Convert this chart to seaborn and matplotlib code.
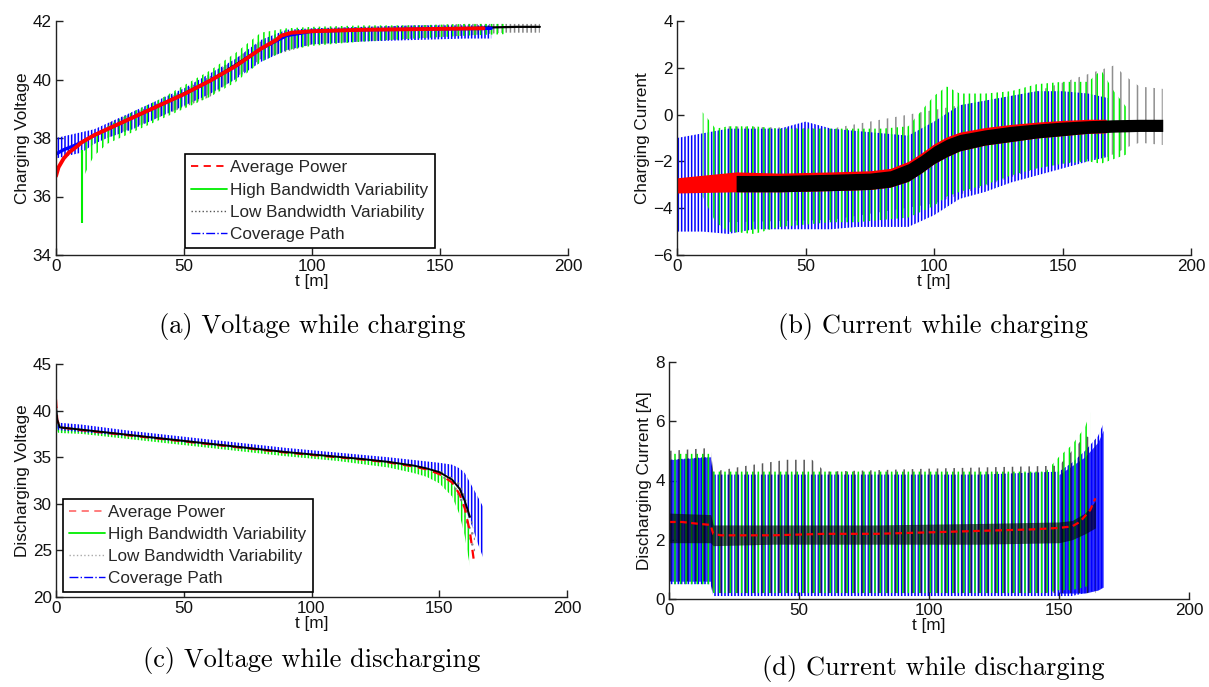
import numpy as np
import pandas as pd
import matplotlib
matplotlib.use("Agg")
import matplotlib.pyplot as plt
from matplotlib.lines import Line2D
import seaborn as sns

# ---------------- data ----------------
# (a) charging voltage
a_red_t = [0, 1, 3, 5, 8, 10, 15, 20, 30, 40, 50, 60, 70, 80, 86, 88, 92, 100, 120, 140, 167]
a_red_v = [36.7, 37.0, 37.3, 37.5, 37.7, 37.85, 38.1, 38.3, 38.7, 39.1, 39.5, 39.95, 40.45, 41.05, 41.35, 41.5, 41.6, 41.65, 41.7, 41.72, 41.75]
a_blue_t = [0, 3, 6, 10, 15, 20, 30, 40, 50, 60, 70, 80, 90, 100, 120, 140, 170]
a_blue_v = [37.45, 37.6, 37.7, 37.85, 38.1, 38.3, 38.7, 39.1, 39.5, 39.95, 40.45, 41.05, 41.5, 41.65, 41.7, 41.72, 41.75]
a_blk_t = [20, 40, 60, 80, 90, 100, 120, 140, 160, 170, 180, 189]
a_blk_v = [38.3, 39.1, 39.95, 41.05, 41.5, 41.65, 41.7, 41.72, 41.75, 41.78, 41.8, 41.8]
a_bband_t = [0, 5, 10, 15, 20, 30, 40, 50, 60, 70, 80, 90, 100, 120, 140, 160, 170]
a_bband_lo = [37.3, 37.4, 37.5, 37.8, 38.0, 38.3, 38.7, 39.1, 39.5, 40.0, 40.6, 41.0, 41.2, 41.3, 41.35, 41.4, 41.4]
a_bband_hi = [38.0, 38.1, 38.2, 38.3, 38.5, 38.9, 39.3, 39.7, 40.2, 40.7, 41.35, 41.7, 41.75, 41.8, 41.85, 41.85, 41.85]
a_gband_t = [10, 11, 13, 15, 20, 30, 40, 50, 60, 70, 80, 90, 100, 120, 140, 160, 175]
a_gband_lo = [36.5, 36.7, 37.1, 37.4, 37.8, 38.2, 38.6, 39.0, 39.4, 39.9, 40.6, 41.0, 41.15, 41.3, 41.4, 41.5, 41.55]
a_gband_hi = [37.9, 37.9, 38.0, 38.1, 38.4, 38.9, 39.3, 39.8, 40.3, 40.9, 41.6, 41.75, 41.8, 41.85, 41.85, 41.9, 41.9]
a_gspike_t = [10]          # single deep green dip at t = 10
a_gspike_lo = [35.1]
a_gspike_hi = [37.6]
a_kband_t = [20, 40, 60, 80, 100, 120, 140, 160, 175, 189]
a_kband_lo = [38.0, 38.7, 39.4, 40.7, 41.2, 41.3, 41.4, 41.5, 41.6, 41.6]
a_kband_hi = [38.5, 39.2, 40.1, 41.3, 41.75, 41.8, 41.85, 41.9, 41.9, 41.9]

# (b) charging current
b_red_t = [0, 23, 40, 60, 75, 83, 90, 95, 100, 105, 110, 120, 130, 140, 150, 160, 167]
b_red_lo = [-3.35, -3.3, -3.3, -3.25, -3.2, -3.1, -2.85, -2.5, -2.1, -1.8, -1.55, -1.3, -1.15, -1.0, -0.9, -0.8, -0.78]
b_red_hi = [-2.7, -2.45, -2.5, -2.45, -2.4, -2.3, -2.0, -1.65, -1.25, -0.95, -0.75, -0.55, -0.42, -0.32, -0.25, -0.2, -0.2]
b_blk_t = [23, 40, 60, 75, 83, 90, 95, 100, 105, 110, 120, 130, 140, 150, 160, 170, 180, 189]
b_blk_lo = [-3.3, -3.3, -3.25, -3.2, -3.1, -2.85, -2.5, -2.1, -1.8, -1.55, -1.3, -1.15, -1.0, -0.9, -0.8, -0.75, -0.72, -0.72]
b_blk_hi = [-2.6, -2.6, -2.55, -2.5, -2.4, -2.1, -1.75, -1.35, -1.05, -0.85, -0.65, -0.5, -0.4, -0.32, -0.26, -0.22, -0.2, -0.2]
b_grn_t = [10, 15, 20, 30, 40, 50, 60, 70, 80, 90, 100, 105, 110, 120, 130, 140, 150, 160, 165, 170, 175]
b_grn_lo = [-3.5, -4.6, -5.0, -5.1, -4.8, -4.7, -4.6, -4.6, -4.5, -4.4, -3.9, -3.5, -3.3, -3.0, -2.6, -2.3, -2.1, -2.0, -2.1, -1.9, -1.7]
b_grn_hi = [0.1, -0.6, -0.5, -0.5, -0.6, -0.6, -0.6, -0.6, -0.6, -0.5, 0.8, 1.2, 0.9, 0.9, 1.0, 1.3, 1.4, 1.4, 1.9, 1.0, 0.3]
b_blu_t = [0, 10, 20, 30, 40, 50, 60, 70, 80, 90, 100, 110, 120, 130, 140, 150, 160, 168]
b_blu_lo = [-5.0, -5.0, -5.1, -4.9, -4.9, -4.9, -4.9, -4.8, -4.8, -4.8, -4.3, -3.6, -3.3, -2.9, -2.6, -2.3, -2.0, -1.8]
b_blu_hi = [-1.0, -0.8, -0.6, -0.6, -0.6, -0.3, -0.6, -0.7, -0.8, -0.9, -0.3, 0.4, 0.6, 0.8, 1.0, 1.0, 0.9, 0.7]
b_dot_t = [20, 60, 100, 140, 170, 175, 180, 189]
b_dot_lo = [-4.6, -4.5, -3.8, -2.3, -1.7, -1.4, -1.2, -1.3]
b_dot_hi = [-0.5, -0.6, 0.2, 1.0, 2.1, 1.6, 1.2, 1.1]

# (c) discharging voltage
c_red_t = [0, 0.5, 1.5, 10, 20, 30, 40, 50, 60, 70, 80, 90, 100, 110, 120, 130, 140, 145, 150, 155, 158, 160, 162, 163.5]
c_red_v = [41.2, 39.0, 38.2, 37.9, 37.6, 37.3, 37.0, 36.7, 36.4, 36.1, 35.8, 35.5, 35.25, 35.0, 34.75, 34.45, 34.0, 33.7, 33.2, 32.3, 31.0, 29.5, 27.0, 24.0]
c_blk_t = [0, 0.5, 1.5, 10, 20, 30, 40, 50, 60, 70, 80, 90, 100, 110, 120, 130, 140, 145, 150, 155, 158, 160, 162]
c_blk_v = [40.5, 39.0, 38.2, 37.95, 37.65, 37.35, 37.05, 36.75, 36.45, 36.15, 35.85, 35.55, 35.3, 35.05, 34.8, 34.5, 34.1, 33.8, 33.4, 32.6, 31.6, 30.3, 28.6]
c_grn_t = [0, 1, 10, 30, 50, 70, 90, 110, 130, 140, 145, 150, 155, 158, 160, 162]
c_grn_lo = [38.0, 37.6, 37.5, 36.9, 36.3, 35.7, 35.1, 34.6, 33.9, 33.3, 32.9, 32.2, 30.8, 28.8, 26.5, 23.3]
c_grn_hi = [41.0, 38.4, 38.1, 37.4, 36.9, 36.2, 35.6, 35.1, 34.5, 34.0, 33.7, 33.2, 32.3, 31.0, 29.5, 27.5]
c_blu_t = [0, 1, 10, 30, 50, 70, 90, 110, 130, 140, 150, 155, 158, 160, 163, 165, 167.5]
c_blu_lo = [38.3, 37.9, 37.7, 37.2, 36.6, 36.0, 35.5, 35.0, 34.4, 34.0, 33.4, 32.8, 31.5, 29.5, 27.5, 25.8, 24.0]
c_blu_hi = [41.0, 38.7, 38.5, 37.8, 37.2, 36.6, 36.0, 35.5, 35.0, 34.7, 34.4, 34.2, 33.8, 33.3, 31.8, 30.8, 29.5]
c_dot_t = [150, 155, 158, 160, 162, 164]
c_dot_lo = [33.0, 32.0, 30.5, 28.5, 26.0, 24.0]
c_dot_hi = [33.6, 33.0, 32.2, 31.0, 29.0, 27.0]

# (d) discharging current
d_red_t = [0, 5, 10, 16, 17, 20, 40, 60, 80, 100, 120, 140, 150, 155, 158, 160, 162, 164]
d_red_v = [2.6, 2.6, 2.55, 2.5, 2.2, 2.15, 2.15, 2.2, 2.2, 2.25, 2.3, 2.35, 2.4, 2.45, 2.6, 2.8, 3.0, 3.4]
d_blk_t = [0, 16, 17, 40, 80, 120, 150, 155, 160, 164]
d_blk_lo = [1.9, 1.9, 1.8, 1.85, 1.85, 1.85, 1.9, 2.0, 2.2, 2.4]
d_blk_hi = [2.9, 2.85, 2.5, 2.5, 2.5, 2.55, 2.6, 2.65, 2.9, 3.3]
d_grn_t = [0, 16, 17, 40, 80, 120, 145, 150, 155, 160, 162]
d_grn_lo = [0.5, 0.5, 0.2, 0.2, 0.2, 0.2, 0.2, 0.3, 0.3, 0.4, 0.5]
d_grn_hi = [4.9, 4.9, 4.3, 4.3, 4.3, 4.3, 4.3, 4.8, 5.2, 5.8, 6.3]
d_blu_t = [0, 16, 17, 40, 80, 120, 150, 155, 160, 165, 167]
d_blu_lo = [0.5, 0.5, 0.1, 0.1, 0.1, 0.1, 0.1, 0.1, 0.2, 0.3, 0.4]
d_blu_hi = [4.7, 4.8, 4.2, 4.2, 4.2, 4.2, 4.3, 4.6, 5.0, 5.5, 5.9]
d_bluA_t = [0, 16]          # dense blue block at the start
d_bluA_lo = [0.6, 0.6]
d_bluA_hi = [4.7, 4.8]
d_bluB_t = [150, 155, 160, 165, 167]   # dense blue block at the end
d_bluB_lo = [0.2, 0.2, 0.2, 0.3, 0.4]
d_bluB_hi = [4.2, 4.5, 4.8, 5.3, 5.7]
d_dot_t = [0, 16, 17, 30, 45, 55, 60, 100, 150, 160, 164]
d_dot_lo = [0.6, 0.6, 0.2, 0.2, 0.2, 0.2, 0.2, 0.2, 0.2, 0.2, 0.2]
d_dot_hi = [5.0, 5.1, 4.3, 4.5, 4.7, 4.7, 4.3, 4.4, 4.5, 5.5, 5.4]

legend_labels = ["Average Power", "High Bandwidth Variability",
                 "Low Bandwidth Variability", "Coverage Path"]
captions = ["(a) Voltage while charging", "(b) Current while charging",
            "(c) Voltage while discharging", "(d) Current while discharging"]
ylabels = ["Charging Voltage", "Charging Current", "Discharging Voltage",
           "Discharging Current [A]"]
xticks = [0, 50, 100, 150, 200]

# ---------------- style ----------------
sns.set_theme(style="ticks")
plt.rcParams["font.family"] = ["Liberation Sans", "DejaVu Sans"]
plt.rcParams["hatch.linewidth"] = 1.1
FS = 12.3
RED, GRN, BLU = "#ff0000", "#00ee00", "#0000ff"

fig = plt.figure(figsize=(12.09, 6.87), dpi=100)
W, H = 1209, 687
def add_ax(l, r, t, b):
    return fig.add_axes([l / W, 1 - b / H, (r - l) / W, (b - t) / H])

axA = add_ax(56, 568, 21, 255)
axB = add_ax(677, 1191, 21, 255)
axC = add_ax(56, 567, 364, 597)
axD = add_ax(669, 1189, 362, 599)


def band(ax, t, lo, hi, color, hatch, alpha=1.0, face=None):
    ax.fill_between(t, lo, hi, facecolor=face if face else "none",
                    edgecolor=matplotlib.colors.to_rgba(color, alpha),
                    hatch=hatch, linewidth=0)


def line(ax, t, v, color, lw, ls="-", alpha=1.0):
    df = pd.DataFrame({"t": t, "v": v})
    sns.lineplot(data=df, x="t", y="v", ax=ax, color=color, lw=lw, ls=ls,
                 alpha=alpha, estimator=None, sort=False)


def style(ax, ylim, yticks, ylabel):
    ax.set_xlim(0, 200)
    ax.set_ylim(*ylim)
    ax.set_xticks(xticks)
    ax.set_yticks(yticks)
    for s in ["top", "right"]:
        ax.spines[s].set_visible(False)
    for s in ["left", "bottom"]:
        ax.spines[s].set_color("#222222")
        ax.spines[s].set_linewidth(1.0)
    ax.tick_params(direction="in", length=5, width=1, colors="#222222",
                   labelsize=FS, pad=3, labelcolor="#111111")
    ax.set_xlabel("t [m]", fontsize=FS, labelpad=0, color="#111111")
    ax.set_ylabel(ylabel, fontsize=FS, labelpad=2, color="#111111")


def legend(ax, anchor, redalpha=1.0, dotcolor="#555555"):
    handles = [
        Line2D([], [], color=RED, ls=(0, (4, 3)), lw=1.3, alpha=redalpha),
        Line2D([], [], color=GRN, ls="-", lw=1.3),
        Line2D([], [], color=dotcolor, ls=":", lw=1.0),
        Line2D([], [], color=BLU, ls="-.", lw=1.0),
    ]
    leg = ax.legend(handles, legend_labels, loc="lower left",
                    bbox_to_anchor=anchor, fontsize=FS, frameon=True,
                    fancybox=False, framealpha=1, edgecolor="black",
                    handlelength=2.1, handletextpad=0.2, borderpad=0.35,
                    labelspacing=0.42, borderaxespad=0)
    leg.get_frame().set_linewidth(1.2)


# ---------------- (a) ----------------
band(axA, a_kband_t, a_kband_lo, a_kband_hi, "#333333", "||||", 0.6)
band(axA, a_bband_t, a_bband_lo, a_bband_hi, BLU, "|||||")
band(axA, a_gband_t, a_gband_lo, a_gband_hi, GRN, "|||")
axA.vlines(a_gspike_t, a_gspike_lo, a_gspike_hi, color=GRN, lw=1.5)
line(axA, a_blk_t, a_blk_v, "black", 1.6)
line(axA, a_blue_t, a_blue_v, BLU, 2.4)
line(axA, a_red_t, a_red_v, RED, 2.8)
style(axA, (34, 42), [34, 36, 38, 40, 42], ylabels[0])
legend(axA, (0.252, 0.03))

# ---------------- (b) ----------------
band(axB, b_dot_t, b_dot_lo, b_dot_hi, "#444444", "||", 0.6)
band(axB, b_blu_t, b_blu_lo, b_blu_hi, BLU, "|||||")
band(axB, b_grn_t, b_grn_lo, b_grn_hi, GRN, "|||")
axB.fill_between(b_red_t, b_red_lo, b_red_hi, color=RED, lw=0)
axB.fill_between(b_blk_t, b_blk_lo, b_blk_hi, color="black", lw=0)
style(axB, (-6, 4), [-6, -4, -2, 0, 2, 4], ylabels[1])

# ---------------- (c) ----------------
band(axC, c_grn_t, c_grn_lo, c_grn_hi, GRN, "|||||")
band(axC, c_blu_t, c_blu_lo, c_blu_hi, BLU, "|||||")
band(axC, c_dot_t, c_dot_lo, c_dot_hi, "#777777", "...", 0.8)
line(axC, c_red_t, c_red_v, RED, 1.6, ls=(0, (4, 3)))
line(axC, c_blk_t, c_blk_v, "black", 1.4)
style(axC, (20, 45), [20, 25, 30, 35, 40, 45], ylabels[2])
legend(axC, (0.014, 0.021), redalpha=0.55, dotcolor="#aaaaaa")

# ---------------- (d) ----------------
band(axD, d_blu_t, d_blu_lo, d_blu_hi, BLU, "|||||")
axD.fill_between(d_bluA_t, d_bluA_lo, d_bluA_hi, color=BLU, lw=0, alpha=0.75)
axD.fill_between(d_bluB_t, d_bluB_lo, d_bluB_hi, color=BLU, lw=0, alpha=0.8)
band(axD, d_grn_t, d_grn_lo, d_grn_hi, GRN, "|||")
band(axD, d_dot_t, d_dot_lo, d_dot_hi, "#111111", "||", 0.7)
axD.fill_between(d_blk_t, d_blk_lo, d_blk_hi, color="black", lw=0, alpha=0.6)
line(axD, d_red_t, d_red_v, RED, 1.6, ls=(0, (3, 2)))
style(axD, (0, 8), [0, 2, 4, 6, 8], ylabels[3])

# ---------------- captions ----------------
cap_pos = [(312, 326), (933, 326), (312, 661), (933, 668)]
for (x, y), txt in zip(cap_pos, captions):
    fig.text(x / W, 1 - y / H, txt, ha="center", va="center",
             fontsize=19, family=["cmr10", "DejaVu Serif"], color="black")

fig.savefig("out.png", dpi=100)
